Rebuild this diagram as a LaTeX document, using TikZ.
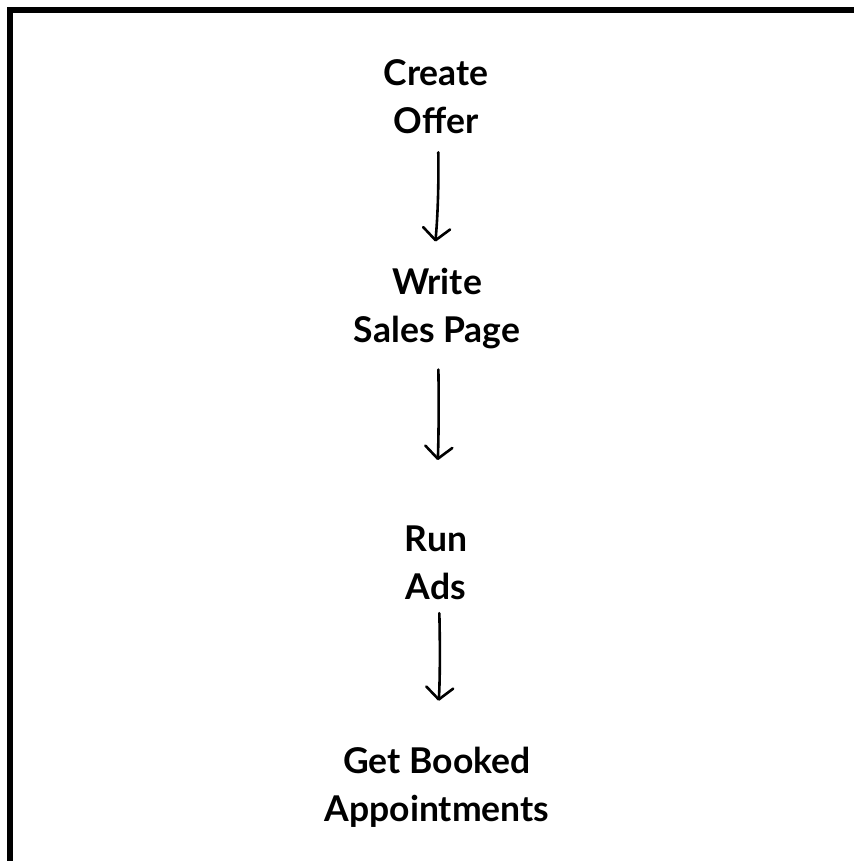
\documentclass[tikz,border=0pt]{standalone}
\usepackage{fontspec}
\setmainfont{Lato}
\usetikzlibrary{arrows.meta}
\tikzset{
  stepbox/.style={font=\fontsize{35.5}{48}\selectfont\bfseries, align=center, inner sep=0pt, text=black},
  arr/.style={line width=2.6pt, line cap=round, -{Straight Barb[length=12pt,width=27pt,line cap=round,line join=round]}},
  frame/.style={line width=6pt, line cap=butt, line join=miter}
}
\begin{document}
\begin{tikzpicture}[x=1pt,y=-1pt]
\useasboundingbox (0,0) rectangle (854,861);
\fill[white] (0,0) rectangle (854,861);
\draw[frame] (10,861) -- (10,10) -- (854,10);
\node[stepbox] (a) at (436,97) {Create\\Offer};
\node[stepbox] (b) at (437,309) {Write\\Sales Page};
\node[stepbox] (c) at (436,563) {Run\\Ads};
\node[stepbox] (d) at (437,787) {Get Booked\\Appointments};
\draw[arr, shorten <=18pt, shorten >=27pt] ([xshift=2pt]a.south) to[bend left=3] ([xshift=-4pt]b.north);
\draw[arr, shorten <=20pt, shorten >=66pt] ([xshift=1pt]b.south) to[bend left=3] ([xshift=-4pt]c.north);
\draw[arr, shorten <=13pt, shorten >=46pt] ([xshift=3pt]c.south) to[bend left=3] ([xshift=-2pt]d.north);
\end{tikzpicture}
\end{document}
